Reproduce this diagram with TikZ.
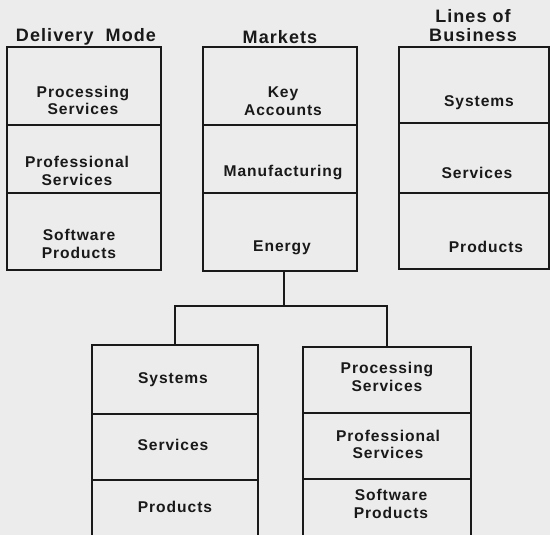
\documentclass[tikz,border=0pt]{standalone}
\usepackage{fontspec}
\setmainfont{Liberation Sans}[LetterSpace=6]
\begin{document}
\begin{tikzpicture}[x=1pt,y=-1pt,
  cell/.style={draw=black!90, line width=1.5pt, inner sep=0pt},
  lbl/.style={font=\fontsize{15.6}{17.8}\selectfont\bfseries, text=black!90, align=center, inner sep=0pt},
  ttl/.style={lbl, font=\fontsize{18}{19.5}\selectfont\bfseries},
  conn/.style={draw=black!90, line width=1.5pt}]
\fill[fill={rgb,255:red,236;green,236;blue,236}] (0,0) rectangle (550,535);
\useasboundingbox (0,0) rectangle (550,535);
\clip (0,0) rectangle (550,535);
% Delivery Mode
\node[cell, minimum width=154pt, minimum height=78pt] (dm1) at (84,86) {};
\node[cell, minimum width=154pt, minimum height=68pt] (dm2) at (84,159) {};
\node[cell, minimum width=154pt, minimum height=77pt] (dm3) at (84,231.5) {};
% Markets
\node[cell, minimum width=154pt, minimum height=78pt] (mk1) at (280,86) {};
\node[cell, minimum width=154pt, minimum height=68pt] (mk2) at (280,159) {};
\node[cell, minimum width=154pt, minimum height=78pt] (mk3) at (280,232) {};
% Lines of Business
\node[cell, minimum width=150pt, minimum height=76pt] (lb1) at (474,85) {};
\node[cell, minimum width=150pt, minimum height=70pt] (lb2) at (474,158) {};
\node[cell, minimum width=150pt, minimum height=76pt] (lb3) at (474,231) {};
% Bottom left
\node[cell, minimum width=166pt, minimum height=69pt] (bl1) at (175,379.5) {};
\node[cell, minimum width=166pt, minimum height=66pt] (bl2) at (175,447) {};
\node[cell, minimum width=166pt, minimum height=80pt] (bl3) at (175,520) {};
% Bottom right
\node[cell, minimum width=168pt, minimum height=66pt] (br1) at (387,380) {};
\node[cell, minimum width=168pt, minimum height=66pt] (br2) at (387,446) {};
\node[cell, minimum width=168pt, minimum height=81pt] (br3) at (387,519.5) {};
% titles
\node[ttl] (t1) at (86,37) {Delivery\ \ Mode};
\node[ttl] (t2) at (280,37) {Markets};
\node[ttl] (t3) at (473,25.5) {Lines of\\Business};
% labels
\node[lbl] (a1) at (83,100.5) {Processing\\Services};
\node[lbl] (a2) at (77,171) {Professional\\Services};
\node[lbl] (a3) at (79,244) {Software\\Products};
\node[lbl] (b1) at (283,101) {Key\\Accounts};
\node[lbl] (b2) at (283,173) {Manufacturing};
\node[lbl] (b3) at (282,248) {Energy};
\node[lbl] (c1) at (479,103) {Systems};
\node[lbl] (c2) at (477,173) {Services};
\node[lbl] (c3) at (486,247) {Products};
\node[lbl] (d1) at (173,380) {Systems};
\node[lbl] (d2) at (173,445) {Services};
\node[lbl] (d3) at (175,507) {Products};
\node[lbl] (e1) at (387,377) {Processing\\Services};
\node[lbl] (e2) at (388,444.5) {Professional\\Services};
\node[lbl] (e3) at (391,504) {Software\\Products};
% connectors
\coordinate (j) at (284,306);
\draw[conn] (mk3.south -| j) -- (j);
\draw[conn] (bl1.north) |- (j) -| (br1.north);
\end{tikzpicture}
\end{document}
